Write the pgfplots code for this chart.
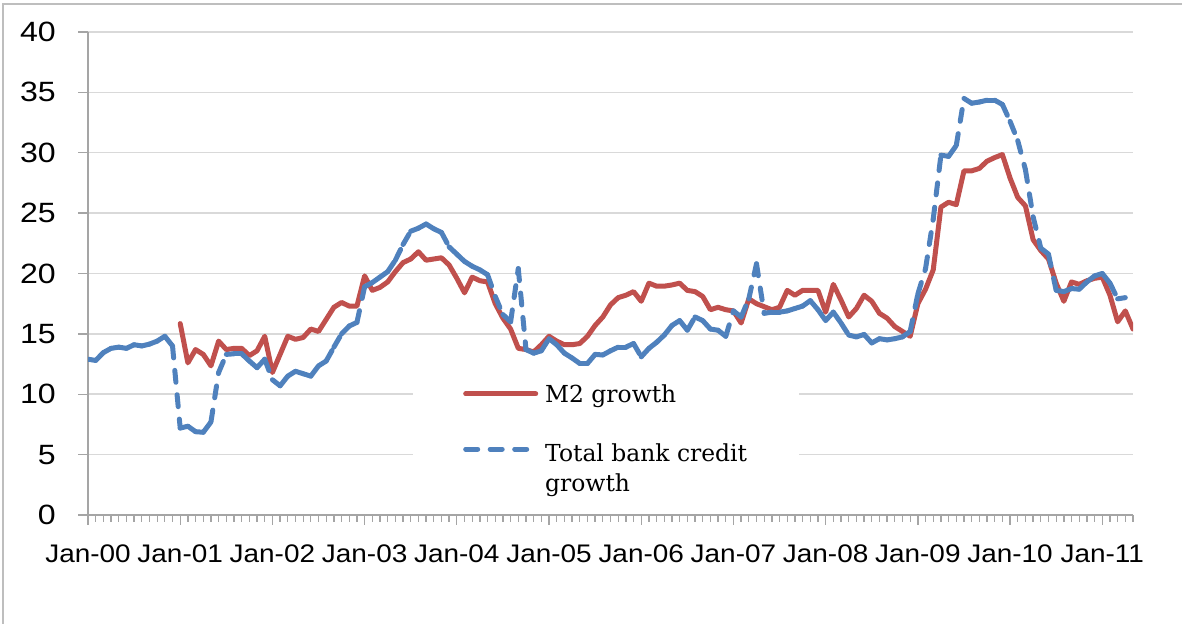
\documentclass[border=0pt]{standalone}
\usepackage{pgfplots}
\pgfplotsset{compat=1.18}
\usepackage{pgfplotstable}
\usepackage{fontspec}
\setmainfont{Liberation Sans}
\newfontfamily\yfont{Liberation Sans}[FakeStretch=1.15]
\newfontfamily\xfont{Liberation Sans}[FakeStretch=1.1]
\newfontfamily\legfont{DejaVu Serif}
\definecolor{mred}{RGB}{192,80,77}
\definecolor{mblue}{RGB}{79,129,189}
\definecolor{gridc}{RGB}{217,217,217}
\definecolor{axc}{RGB}{165,165,165}
\definecolor{framec}{RGB}{190,190,190}
\pgfplotsset{
  oneline legend/.style={legend image code/.code={\draw[##1, line cap=round] (2.5bp,0bp) -- (72.5bp,0bp);}},
  twoline legend/.style={legend image code/.code={\draw[##1, line cap=round] (2.5bp,19bp) -- (72.5bp,19bp);}},
}

\pgfplotstableread{
x y
12 15.85
13 12.6
14 13.7
15 13.3
16 12.35
17 14.4
18 13.7
19 13.8
20 13.8
21 13.2
22 13.6
23 14.8
24 11.8
25 13.3
26 14.8
27 14.55
28 14.7
29 15.4
30 15.2
31 16.2
32 17.2
33 17.6
34 17.3
35 17.3
36 19.8
37 18.6
38 18.85
39 19.3
40 20.15
41 20.9
42 21.2
43 21.8
44 21.1
45 21.2
46 21.3
47 20.7
48 19.6
49 18.4
50 19.7
51 19.4
52 19.3
53 17.5
54 16.3
55 15.4
56 13.8
57 13.7
58 13.5
59 14.1
60 14.8
61 14.4
62 14.1
63 14.1
64 14.2
65 14.8
66 15.7
67 16.4
68 17.4
69 18.0
70 18.2
71 18.5
72 17.7
73 19.2
74 18.95
75 18.95
76 19.05
77 19.2
78 18.6
79 18.5
80 18.1
81 17.0
82 17.2
83 17.0
84 16.9
85 15.9
86 17.9
87 17.5
88 17.25
89 17.0
90 17.2
91 18.6
92 18.2
93 18.6
94 18.6
95 18.6
96 16.8
97 19.1
98 17.8
99 16.4
100 17.1
101 18.2
102 17.7
103 16.7
104 16.3
105 15.6
106 15.2
107 14.8
108 17.5
109 18.7
110 20.3
111 25.5
112 25.9
113 25.7
114 28.5
115 28.5
116 28.7
117 29.3
118 29.6
119 29.85
120 27.9
121 26.3
122 25.6
123 22.8
124 21.9
125 21.2
126 19.2
127 17.7
128 19.3
129 19.1
130 19.4
131 19.6
132 19.7
133 18.2
134 16.0
135 16.9
136 15.4
}\redtab

\pgfplotstableread{
x y yn
0 12.9 12.8
1 12.8 13.45
2 13.45 13.8
3 13.8 13.9
4 13.9 13.8
5 13.8 14.1
6 14.1 14.0
7 14.0 14.15
8 14.15 14.4
9 14.4 14.8
10 14.8 14.0
11 14.0 7.2
12 7.2 7.35
13 7.35 6.9
14 6.9 6.85
15 6.85 7.7
16 7.7 11.8
17 11.8 13.3
18 13.3 13.35
19 13.35 13.35
20 13.35 12.75
21 12.75 12.2
22 12.2 12.9
23 12.9 11.2
24 11.2 10.7
25 10.7 11.5
26 11.5 11.9
27 11.9 11.7
28 11.7 11.5
29 11.5 12.35
30 12.35 12.75
31 12.75 13.9
32 13.9 15.0
33 15.0 15.65
34 15.65 15.95
35 15.95 18.9
36 18.9 19.25
37 19.25 19.7
38 19.7 20.15
39 20.15 21.1
40 21.1 22.4
41 22.4 23.5
42 23.5 23.75
43 23.75 24.1
44 24.1 23.7
45 23.7 23.4
46 23.4 22.2
47 22.2 21.6
48 21.6 21.0
49 21.0 20.6
50 20.6 20.3
51 20.3 19.9
52 19.9 18.1
53 18.1 16.6
54 16.6 16.0
55 16.0 20.4
56 20.4 13.7
57 13.7 13.4
58 13.4 13.6
59 13.6 14.6
60 14.6 14.1
61 14.1 13.4
62 13.4 13.0
63 13.0 12.55
64 12.55 12.55
65 12.55 13.3
66 13.3 13.25
67 13.25 13.6
68 13.6 13.9
69 13.9 13.9
70 13.9 14.2
71 14.2 13.1
72 13.1 13.8
73 13.8 14.3
74 14.3 14.9
75 14.9 15.7
76 15.7 16.1
77 16.1 15.3
78 15.3 16.4
79 16.4 16.1
80 16.1 15.4
81 15.4 15.3
82 15.3 14.8
83 14.8 16.9
84 16.9 16.4
85 16.4 17.9
86 17.9 20.8
87 20.8 16.7
88 16.7 16.8
89 16.8 16.8
90 16.8 16.9
91 16.9 17.1
92 17.1 17.3
93 17.3 17.75
94 17.75 17.0
95 17.0 16.1
96 16.1 16.8
97 16.8 15.9
98 15.9 14.9
99 14.9 14.75
100 14.75 14.95
101 14.95 14.25
102 14.25 14.6
103 14.6 14.5
104 14.5 14.6
105 14.6 14.75
106 14.75 15.2
107 15.2 18.3
108 18.3 20.4
109 20.4 24.5
110 24.5 29.8
111 29.8 29.7
112 29.7 30.6
113 30.6 34.5
114 34.5 34.1
115 34.1 34.2
116 34.2 34.35
117 34.35 34.35
118 34.35 34.0
119 34.0 32.6
120 32.6 31.0
121 31.0 28.6
122 28.6 24.7
123 24.7 22.1
124 22.1 21.6
125 21.6 18.6
126 18.6 18.5
127 18.5 18.75
128 18.75 18.7
129 18.7 19.3
130 19.3 19.8
131 19.8 20.0
132 20.0 19.2
133 19.2 17.9
134 17.9 18.0
}\bluetab

\begin{document}
\begin{tikzpicture}[x=1bp,y=1bp]
\path[use as bounding box] (0,0) rectangle (1182,624);
\draw[framec, line width=2bp] (3,0) -- (3,620) -- (1182,620);
\begin{axis}[
  scale only axis, width=1045bp, height=483bp,
  at={(88bp,109bp)}, anchor=south west,
  xmin=0, xmax=136, ymin=0, ymax=40,
  axis lines=left,
  axis line style={-, draw=axc, line width=1.5bp},
  ytick={0,5,...,40},
  xtick={0,12,...,132},
  xticklabels={Jan-00,Jan-01,Jan-02,Jan-03,Jan-04,Jan-05,Jan-06,Jan-07,Jan-08,Jan-09,Jan-10,Jan-11},
  minor xtick={0,1,...,136},
  tick align=outside,
  major tick length=10bp, minor tick length=7bp,
  tick style={draw=axc, line width=1.3bp},
  ymajorgrids, grid style={draw=gridc, line width=1.5bp},
  /pgf/number format/assume math mode=true,
  ticklabel style={text=black},
  yticklabel style={font=\yfont\fontsize{28}{32}\selectfont, anchor=east, inner sep=0pt, xshift=-22bp},
  xticklabel style={font=\xfont\fontsize{25.5}{30}\selectfont, anchor=north, inner sep=0pt, yshift=-20bp},
  legend style={at={(0.311,0.300)}, anchor=north west, draw=none, fill=white,
    inner xsep=50bp, inner ysep=12bp, font=\legfont\fontsize{23.5}{30}\selectfont,
    cells={align=left}, row sep=36bp, column sep=5bp},
  legend cell align=left,
]
\addlegendimage{mred, line width=5bp, oneline legend}
\addlegendentry{M2 growth}
\addlegendimage{mblue, line width=5bp, dash pattern=on 12bp off 12.5bp, twoline legend}
\addlegendentry{Total bank credit\\growth}
\addplot[mred, line width=5bp, line join=round, line cap=round, forget plot] table[x=x,y=y]{\redtab};
\addplot[mblue, line width=5bp, line cap=round, dash pattern=on 12bp off 12.5bp, forget plot,
  quiver={u=1, v=\thisrow{yn}-\thisrow{y}}] table[x=x,y=y]{\bluetab};
\end{axis}
\end{tikzpicture}
\end{document}
